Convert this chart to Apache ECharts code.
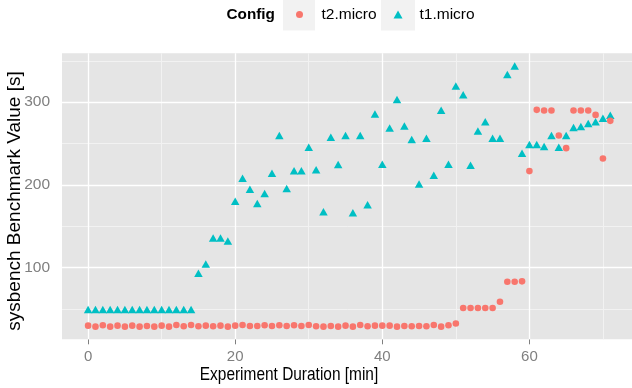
<!DOCTYPE html>
<html>
<head>
<meta charset="utf-8">
<script src="https://cdn.jsdelivr.net/npm/echarts@6/dist/echarts.min.js"></script>
<style>
html,body{margin:0;padding:0;background:#fff;}
#chart{width:632px;height:388px;}
</style>
</head>
<body>
<div id="chart"></div>
<script>
// Experiment minute index
const minutes = [];
for (let i = 0; i <= 71; i++) minutes.push(i);

// t2.micro values
const t2Values = [
  30.0, 28.8, 30.4, 28.8, 30.0, 28.8, 30.0, 28.8, 29.6, 28.8,
  30.0, 28.8, 30.8, 29.2, 30.8, 29.2, 30.0, 29.2, 30.0, 28.8,
  30.0, 30.8, 29.6, 29.6, 30.4, 29.6, 30.4, 29.6, 30.4, 29.6,
  30.8, 29.2, 28.8, 29.6, 28.8, 30.0, 28.8, 30.8, 29.2, 30.0,
  30.0, 30.0, 28.8, 29.6, 29.2, 29.6, 29.2, 30.8, 28.8, 30.4,
  32.6, 51.3, 51.3, 51.3, 51.3, 51.3, 58.9, 83.1, 83.1, 83.5,
  216.7, 290.7, 289.9, 289.9, 259.7, 244.4, 289.9, 289.9, 289.9, 284.6,
  231.9, 277.4
];

// t1.micro values
const t1Values = [
  49.5, 49.5, 49.5, 49.5, 49.5, 49.5, 49.5, 49.5, 49.5, 49.5,
  49.5, 49.5, 49.5, 49.5, 49.5, 93.2, 104.4, 135.8, 135.8, 132.2,
  180.4, 208.2, 194.9, 177.7, 189.7, 214.2, 259.7, 195.8, 217.0, 217.0,
  245.6, 218.2, 167.5, 257.7, 224.7, 259.7, 166.3, 259.7, 176.0, 285.8,
  225.1, 268.9, 303.2, 271.3, 254.9, 201.0, 256.5, 211.8, 290.3, 225.1,
  319.6, 308.8, 223.9, 265.0, 276.2, 256.5, 256.5, 333.4, 343.7, 238.4,
  248.9, 248.9, 246.5, 259.7, 245.6, 259.7, 269.4, 270.6, 274.2, 276.2,
  280.6, 284.3
];

const xTicks = [0, 20, 40, 60];
const xMinor = [10, 30, 50, 70];
const yTicks = [100, 200, 300];
const yMinor = [50, 150, 250, 350];
const seriesNames = ['t2.micro', 't1.micro'];
const legendTitle = 'Config';
const xTitle = 'Experiment Duration [min]';
const yTitle = 'sysbench Benchmark Value [s]';

const C_T2 = '#F8766D';
const C_T1 = '#00BFC4';
const FONT = '"Liberation Sans", Arial, Helvetica, sans-serif';

const t2Data = minutes.map((m, i) => [m, t2Values[i]]);
const t1Data = minutes.map((m, i) => [m, t1Values[i]]);

const minorStyle = {color: '#F2F2F2', width: 1, type: 'solid'};
const majorStyle = {color: '#FFFFFF', width: 1.3, type: 'solid'};
const gridLines = [];
xMinor.forEach(v => gridLines.push({xAxis: v, lineStyle: minorStyle}));
yMinor.forEach(v => gridLines.push({yAxis: v, lineStyle: minorStyle}));
xTicks.forEach(v => gridLines.push({xAxis: v, lineStyle: majorStyle}));
yTicks.forEach(v => gridLines.push({yAxis: v, lineStyle: majorStyle}));

const chart = echarts.init(document.getElementById('chart'), null, {renderer: 'canvas'});
chart.setOption({
  animation: false,
  backgroundColor: '#FFFFFF',
  textStyle: {fontFamily: FONT},
  grid: {
    left: 62, right: -4.4, top: 53.3, bottom: 48.7,
    outerBoundsMode: 'none', containLabel: false,
    show: true, backgroundColor: '#E5E5E5', borderWidth: 0
  },
  graphic: [
    {type: 'rect', z: 0, shape: {x: 283, y: 0, width: 32, height: 30.5}, style: {fill: '#F2F2F2'}},
    {type: 'rect', z: 0, shape: {x: 381, y: 0, width: 34, height: 30.5}, style: {fill: '#F2F2F2'}},
    {type: 'text', x: 226.5, y: 14.5, style: {text: legendTitle, font: 'bold 15.3px "Liberation Sans", Arial, sans-serif', fill: '#000', align: 'left', verticalAlign: 'middle'}},
    {type: 'text', x: 289, y: 375, scaleX: 0.83, style: {text: xTitle, font: '18.6px "Liberation Sans", Arial, sans-serif', fill: '#000', align: 'center', verticalAlign: 'middle'}},
    {type: 'text', x: 14.5, y: 201, rotation: Math.PI / 2, style: {text: yTitle, font: '19px "Liberation Sans", Arial, sans-serif', fill: '#000', align: 'center', verticalAlign: 'middle'}}
  ],
  legend: [
    {
      data: [{name: seriesNames[0], icon: 'circle'}],
      left: 296, top: 6.5, padding: 0,
      itemWidth: 7, itemHeight: 7, itemGap: 0,
      textStyle: {fontSize: 15.5, color: '#000', fontFamily: FONT, padding: [0, 0, 0, 13.5]},
      selectedMode: false
    },
    {
      data: [{name: seriesNames[1], icon: 'triangle'}],
      left: 393.5, top: 6.5, padding: 0,
      itemWidth: 9, itemHeight: 8, itemGap: 0,
      textStyle: {fontSize: 15.5, color: '#000', fontFamily: FONT, padding: [0, 0, 0, 12]},
      selectedMode: false
    }
  ],
  xAxis: {
    type: 'value', min: -3.55, max: 74.55,
    axisLine: {show: true, lineStyle: {color: 'rgba(0,0,0,0)'}},
    axisTick: {show: true, customValues: xTicks, length: 5, lineStyle: {color: '#7F7F7F', width: 1}},
    axisLabel: {customValues: xTicks, color: '#7F7F7F', fontSize: 15, margin: 10, fontFamily: FONT},
    splitLine: {show: false}
  },
  yAxis: {
    type: 'value', min: 13.5, max: 359,
    axisLine: {show: true, lineStyle: {color: 'rgba(0,0,0,0)'}},
    axisTick: {show: true, customValues: yTicks, length: 5, lineStyle: {color: '#7F7F7F', width: 1}},
    axisLabel: {customValues: yTicks, color: '#7F7F7F', fontSize: 15.5, margin: 12, fontFamily: FONT},
    splitLine: {show: false}
  },
  series: [
    {
      name: '_grid', type: 'line', data: [], z: 1, silent: true,
      markLine: {silent: true, z: 1, symbol: 'none', animation: false, label: {show: false}, data: gridLines}
    },
    {
      name: seriesNames[1], type: 'scatter', data: t1Data, z: 3,
      symbol: 'triangle', symbolSize: [8.5, 7.5],
      itemStyle: {color: C_T1, opacity: 1}
    },
    {
      name: seriesNames[0], type: 'scatter', data: t2Data, z: 4,
      symbol: 'circle', symbolSize: 6.6,
      itemStyle: {color: C_T2, opacity: 1}
    }
  ]
});
</script>
</body>
</html>
